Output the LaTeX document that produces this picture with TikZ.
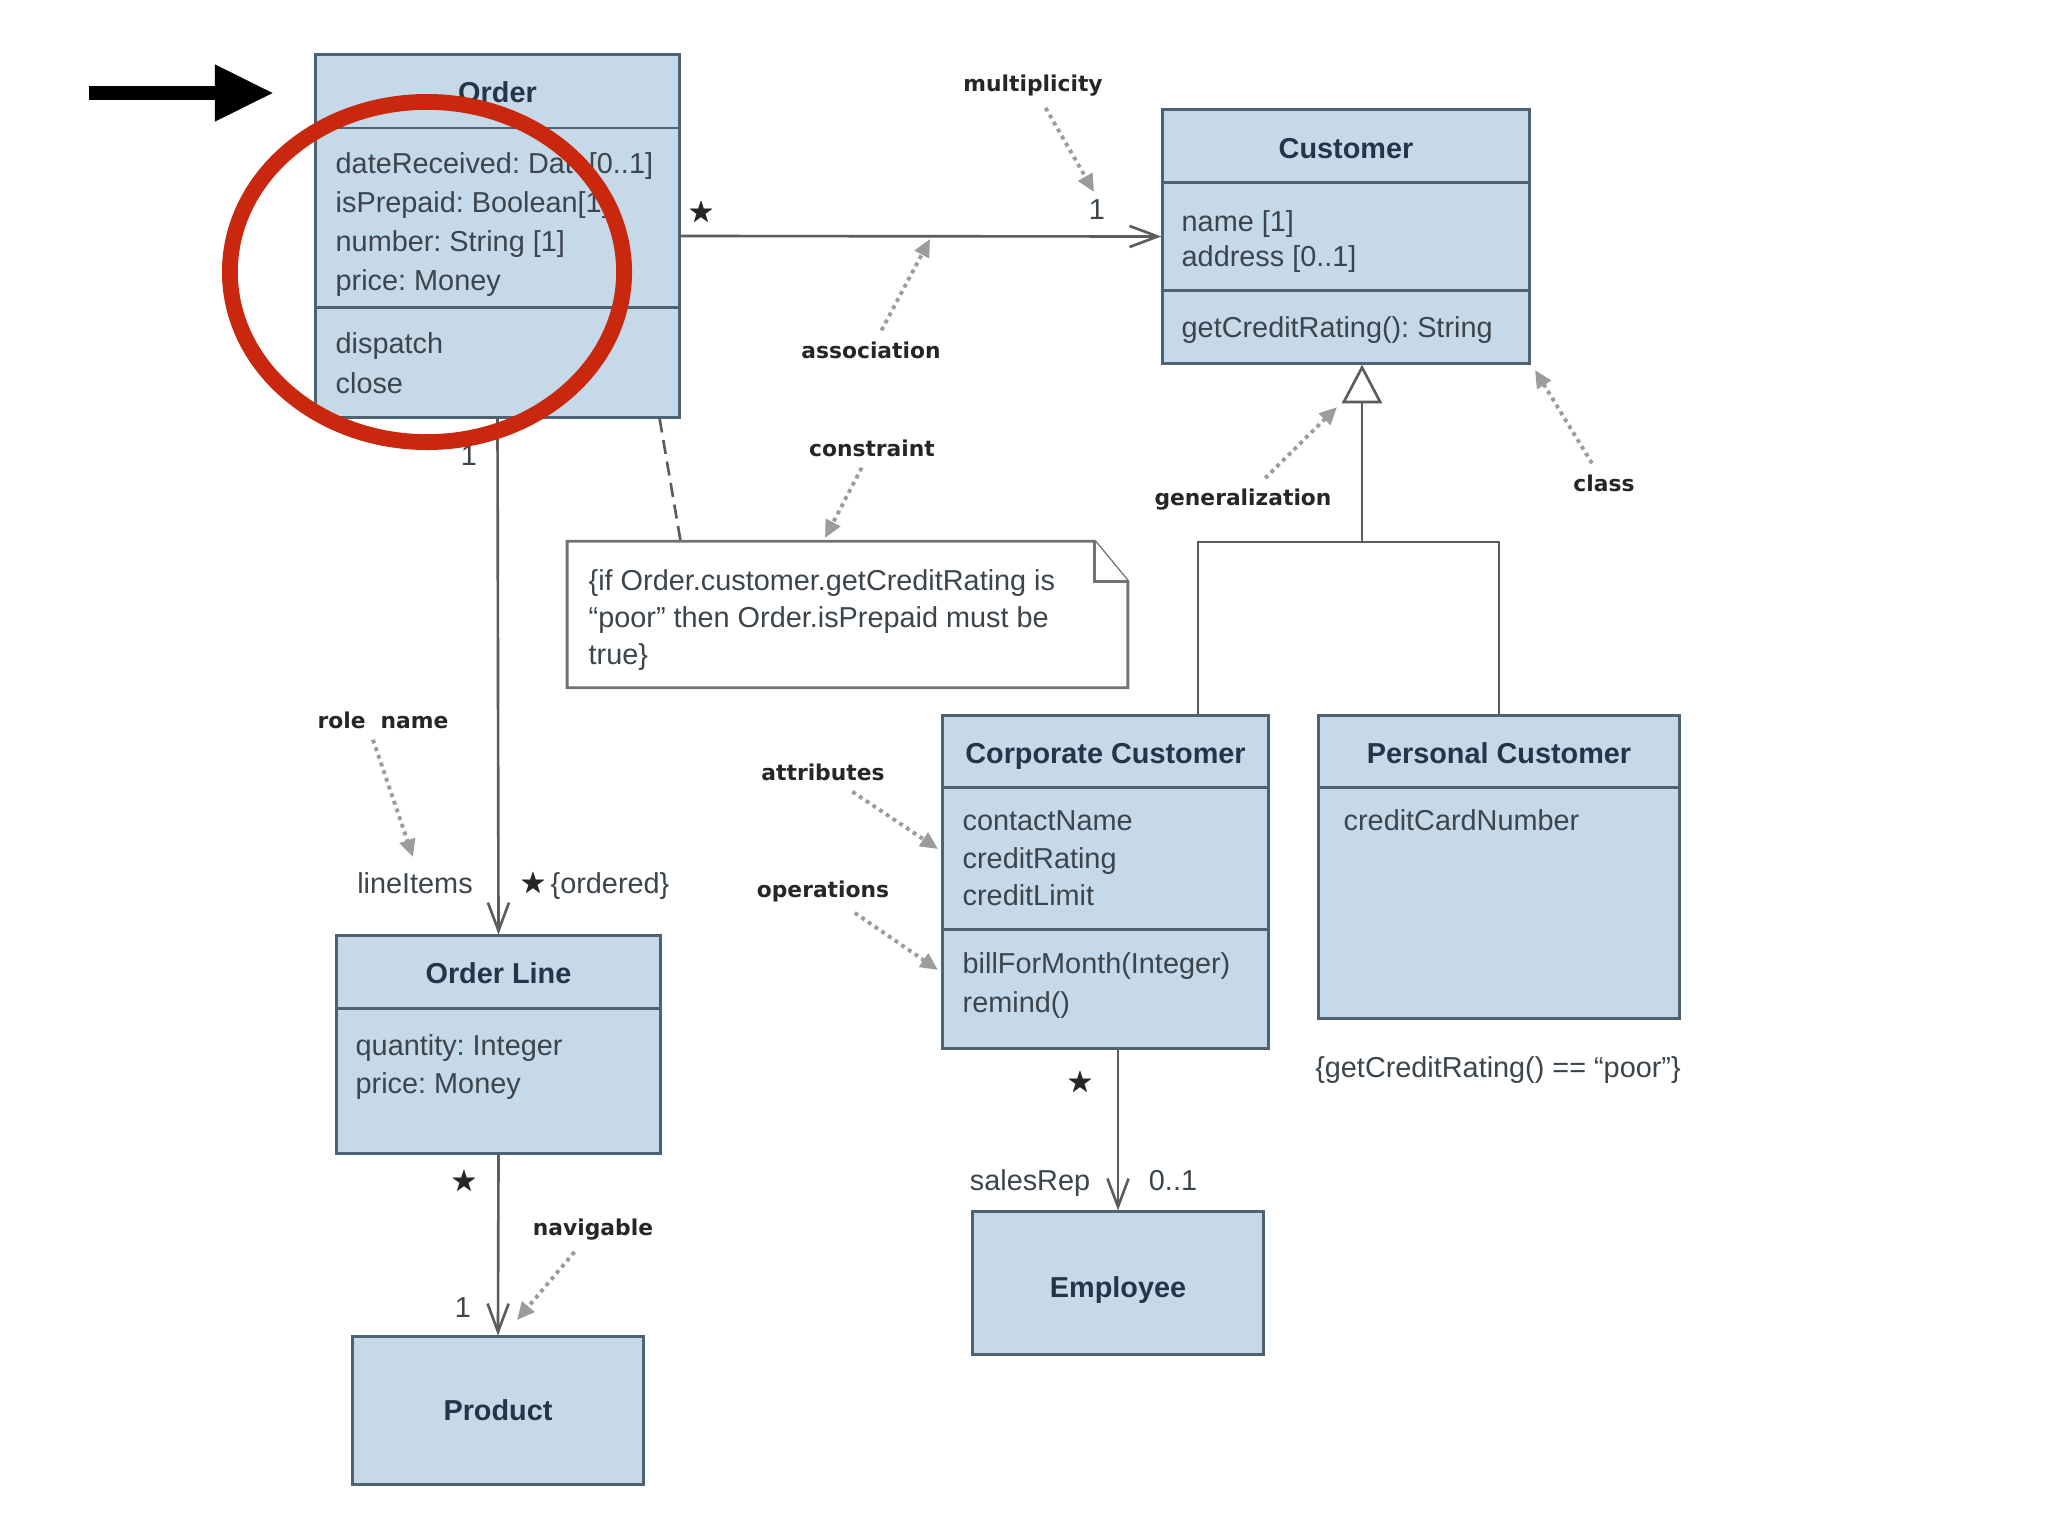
\documentclass[tikz,border=0pt]{standalone}
\usepackage{amssymb}
\usepackage{fontspec}
\setmainfont{Liberation Sans}
\newfontfamily\hintfamily{DejaVu Sans}
\usetikzlibrary{arrows.meta}
\frenchspacing

\definecolor{boxfill}{HTML}{C5D9E9}
\definecolor{boxdraw}{HTML}{4E6272}
\definecolor{titletext}{HTML}{22364A}
\definecolor{bodytext}{HTML}{3C444C}
\definecolor{linegray}{HTML}{5C5C5C}
\definecolor{hintgray}{HTML}{9C9C9C}
\definecolor{ringred}{HTML}{C9280F}

\newcommand{\umlbody}{\fontsize{8.2}{10}\selectfont}
\newcommand{\umltitle}{\fontsize{8.2}{10}\selectfont\bfseries}
\newcommand{\umlhint}{\hintfamily\fontsize{6.2}{8}\selectfont\bfseries}

\tikzset{
  classbox/.style={draw=boxdraw, fill=boxfill, line width=0.85pt, inner sep=0pt},
  ctitle/.style={font=\umltitle, text=titletext, inner sep=0pt, text height=6pt, text depth=0pt},
  cline/.style={font=\umlbody, text=bodytext, anchor=west, inner sep=0pt, text height=6pt, text depth=0pt},
  divider/.style={draw=boxdraw, line width=0.85pt},
  assoc/.style={draw=linegray, line width=0.75pt, -{Straight Barb[length=8pt,width=6pt]}},
  plainline/.style={draw=linegray, line width=0.75pt},
  notebox/.style={draw=gray!90!black, fill=white, line width=0.8pt},
  hint/.style={draw=hintgray, line width=1.1pt, dash pattern=on 1.1pt off 1.2pt, -{Triangle[length=5pt,width=4.5pt]}},
  hinttext/.style={font=\umlhint, text=black!85, inner sep=3pt},
  mult/.style={font=\umlbody, text=bodytext, inner sep=0pt, text height=6pt, text depth=0pt},
  star/.style={font=\fontsize{7.5}{8}\selectfont, text=black!85, inner sep=0pt},
}

\begin{document}
\begin{tikzpicture}[x=0.01cm, y=-0.01cm]
\fill[white] (0,0) rectangle (2048,1536);
\useasboundingbox (0,0) rectangle (2048,1536);

% classes
\node[classbox, minimum width=3.63cm, minimum height=3.62cm] (order) at (497.5,236) {};
\node[classbox, minimum width=3.66cm, minimum height=2.53cm] (cust) at (1346,236.5) {};
\node[classbox, minimum width=3.25cm, minimum height=3.32cm] (corp) at (1105.5,882) {};
\node[classbox, minimum width=3.60cm, minimum height=3.02cm] (pers) at (1499,867) {};
\node[classbox, minimum width=3.23cm, minimum height=2.17cm] (line) at (498.5,1044.5) {};
\node[classbox, minimum width=2.90cm, minimum height=1.47cm] (prod) at (498,1410.5) {};
\node[classbox, minimum width=2.90cm, minimum height=1.42cm] (emp) at (1118,1283) {};

% compartments
\draw[divider] (order.west |- 0,128) -- (order.east |- 0,128);
\draw[divider] (order.west |- 0,307) -- (order.east |- 0,307);
\draw[divider] (cust.west |- 0,182) -- (cust.east |- 0,182);
\draw[divider] (cust.west |- 0,290) -- (cust.east |- 0,290);
\draw[divider] (corp.west |- 0,787) -- (corp.east |- 0,787);
\draw[divider] (corp.west |- 0,929) -- (corp.east |- 0,929);
\draw[divider] (pers.west |- 0,787) -- (pers.east |- 0,787);
\draw[divider] (line.west |- 0,1008) -- (line.east |- 0,1008);

% titles
\node[ctitle] (orderT) at (497.5,92) {Order};
\node[ctitle] (custT) at (1346,148) {Customer};
\node[ctitle] (corpT) at (1105.5,753) {Corporate Customer};
\node[ctitle] (persT) at (1499,753) {Personal Customer};
\node[ctitle] (lineT) at (498.5,973) {Order Line};
\node[ctitle] (prodT) at (498,1410) {Product};
\node[ctitle] (empT) at (1118,1287) {Employee};

% attributes and operations
\foreach \txt [count=\i from 0] in {dateReceived: Date[0..1], isPrepaid: Boolean[1], number: String [1], price: Money}
  \node[cline] (orderA\i) at (335,163+39*\i) {\txt};
\foreach \txt [count=\i from 0] in {dispatch, close}
  \node[cline] (orderO\i) at (335,343+40*\i) {\txt};
\foreach \txt [count=\i from 0] in {name [1], address [0..1]}
  \node[cline] (custA\i) at (1181,221+35*\i) {\txt};
\node[cline] (custO0) at (1181,327) {getCreditRating(): String};
\foreach \txt [count=\i from 0] in {contactName, creditRating, creditLimit}
  \node[cline] (corpA\i) at (962,820+37.5*\i) {\txt};
\foreach \txt [count=\i from 0] in {billForMonth(Integer), remind()}
  \node[cline] (corpO\i) at (962,963+39*\i) {\txt};
\node[cline] (persA0) at (1343,820) {creditCardNumber};
\foreach \txt [count=\i from 0] in {quantity: Integer, price: Money}
  \node[cline] (lineA\i) at (355,1045+38*\i) {\txt};

% constraint note
\node[minimum width=5.59cm, minimum height=1.45cm, inner sep=0pt] (note) at (847.5,614.5) {};
\draw[notebox] (note.north west) -- ([xshift=-0.33cm]note.north east) -- ([yshift=-0.40cm]note.north east)
  -- (note.south east) -- (note.south west) -- cycle;
\draw[notebox] ([xshift=-0.33cm]note.north east) |- ([yshift=-0.40cm]note.north east);
\foreach \txt [count=\i from 0] in {\{if Order.customer.getCreditRating is, “poor” then Order.isPrepaid must be, true\}}
  \node[cline] (noteL\i) at (588,580+37*\i) {\txt};
\draw[plainline, dash pattern=on 4pt off 2.2pt] ([xshift=-0.21cm]order.south east) -- (note.north west -| order.south east);

% associations
\draw[assoc] (order.east) -- (cust.west);
\draw[assoc] (order.south) -- (line.north);
\draw[assoc] (line.south) -- (prod.north);
\draw[assoc] (emp.north |- corp.south) -- (emp.north);

% generalization
\coordinate (genjoin) at (1362,542);
\coordinate (genL) at (1198,542);
\draw[plainline] (corp.north -| genL) |- (pers.north |- genjoin) -- (pers.north);
\draw[plainline, -{Triangle[open, length=11pt, width=11.4pt]}] (genjoin) -- (genjoin |- cust.south);

% ends of associations
\node[star] (s1) at (701,213) {$\bigstar$};
\node[mult] (m1) at (1097,209) {1};
\node[mult] (m2) at (469,455) {1};
\node[mult] (items) at (415,883) {lineItems};
\node[star] (s2) at (533,884) {$\bigstar$};
\node[mult] (ordered) at (610,883) {\{ordered\}};
\node[star] (s3) at (464,1182) {$\bigstar$};
\node[mult] (m3) at (463,1307) {1};
\node[star] (s4) at (1080,1083) {$\bigstar$};
\node[mult] (rep) at (1030,1180) {salesRep};
\node[mult] (m4) at (1173,1180) {0..1};
\node[mult] (persC) at (1498,1067) {\{getCreditRating() == “poor”\}};

% explanations
\node[hinttext] (multLbl) at (1033,86) {multiplicity};
\node[hinttext] (assocLbl) at (871,350) {association};
\node[hinttext] (consLbl) at (872,448) {constraint};
\node[hinttext] (genLbl) at (1243,500) {generalization};
\node[hinttext] (classLbl) at (1604,483) {class};
\node[hinttext] (attrLbl) at (823,772) {attributes};
\node[hinttext] (opLbl) at (823,891) {operations};
\node[hinttext] (roleLbl) at (383,720) {role~ name};
\node[hinttext] (navLbl) at (593,1230) {navigable};
\coordinate (multTip) at (1094,192);
\coordinate (assocTip) at (930,239);
\coordinate (consTip) at (825,538);
\coordinate (genTip) at (1337,407);
\coordinate (classTip) at (1535,370);
\coordinate (attrTip) at (938,849);
\coordinate (opTip) at (938,970);
\coordinate (roleTip) at (413,857);
\coordinate (navTip) at (517,1320);
\draw[hint] (multLbl) -- (multTip);
\draw[hint] (assocLbl) -- (assocTip);
\draw[hint] (consLbl) -- (consTip);
\draw[hint] (genLbl) -- (genTip);
\draw[hint] (classLbl) -- (classTip);
\draw[hint] (attrLbl) -- (attrTip);
\draw[hint] (opLbl) -- (opTip);
\draw[hint] ([xshift=-0.1cm]roleLbl.south) -- (roleTip);
\draw[hint] (navLbl) -- (navTip);

% highlight
\coordinate (pointTail) at (89,93);
\coordinate (pointTip) at (274,93);
\draw[line width=4pt, -{Triangle[length=16.8pt,width=15pt]}] (pointTail) -- (pointTip);
\draw[ringred, line width=4.5pt] (427,272) ellipse [x radius=1.97cm, y radius=1.70cm];
\end{tikzpicture}
\end{document}
